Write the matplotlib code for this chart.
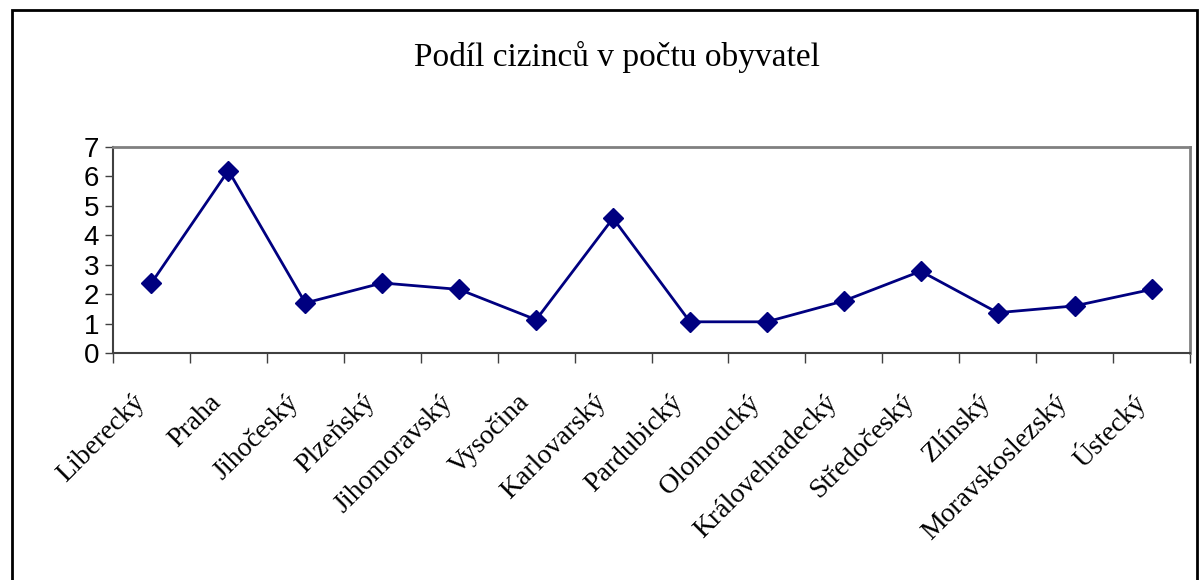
import numpy as np
import matplotlib.pyplot as plt
from matplotlib.patches import Rectangle

# regions and share of foreigners (%)
regions = ['Liberecký', 'Praha', 'Jihočeský', 'Plzeňský', 'Jihomoravský',
           'Vysočina', 'Karlovarský', 'Pardubický', 'Olomoucký',
           'Královehradecký', 'Středočeský', 'Zlínský', 'Moravskoslezský',
           'Ústecký']
share = [2.38, 6.2, 1.7, 2.38, 2.16, 1.13, 4.58, 1.06, 1.06, 1.77, 2.78,
         1.37, 1.6, 2.16]
yticks = [0, 1, 2, 3, 4, 5, 6, 7]
title = 'Podíl cizinců v počtu obyvatel'


def main():
    fig = plt.figure(figsize=(12, 5.8), dpi=100)
    # outer chart frame
    fig.patches.append(Rectangle((12/1200, -0.1), 1185/1200, 1.1 - 10/580,
                                 transform=fig.transFigure, fill=False,
                                 edgecolor='black', linewidth=2))
    fig.text(617/1200, 1 - 57/580, title, ha='center', va='center',
             fontsize=24, family='Liberation Serif')

    ax = fig.add_axes([113/1200, 1 - 353/580, 1077/1200, 206/580])
    x = np.arange(len(regions)) + 0.5
    ax.plot(x, share, color='#000080', linewidth=2, marker='D',
            markersize=10, markerfacecolor='#000080', markeredgecolor='#000080')

    ax.set_xlim(0, len(regions))
    ax.set_ylim(0, 7)
    ax.set_yticks(yticks)
    ax.set_yticklabels([str(v) for v in yticks], fontsize=20,
                       family='Liberation Sans')
    ax.tick_params(axis='y', direction='out', length=6, width=1,
                   color='#404040', pad=4)

    # category ticks at boundaries, labels under centers
    ax.set_xticks(np.arange(len(regions) + 1))
    ax.set_xticklabels([])
    ax.tick_params(axis='x', direction='out', length=7, width=1,
                   color='#404040')
    for xi, name in zip(x, regions):
        ax.text(xi - 0.14, -1.55, name, rotation=45, ha='right', va='center',
                rotation_mode='anchor', fontsize=20,
                family='Liberation Serif', transform=ax.transData,
                clip_on=False)

    for side in ['top', 'right']:
        ax.spines[side].set_color('#808080')
        ax.spines[side].set_linewidth(2)
    for side in ['left', 'bottom']:
        ax.spines[side].set_color('#404040')
        ax.spines[side].set_linewidth(1.5)

    fig.savefig('out.png', dpi=100)


if __name__ == '__main__':
    main()
